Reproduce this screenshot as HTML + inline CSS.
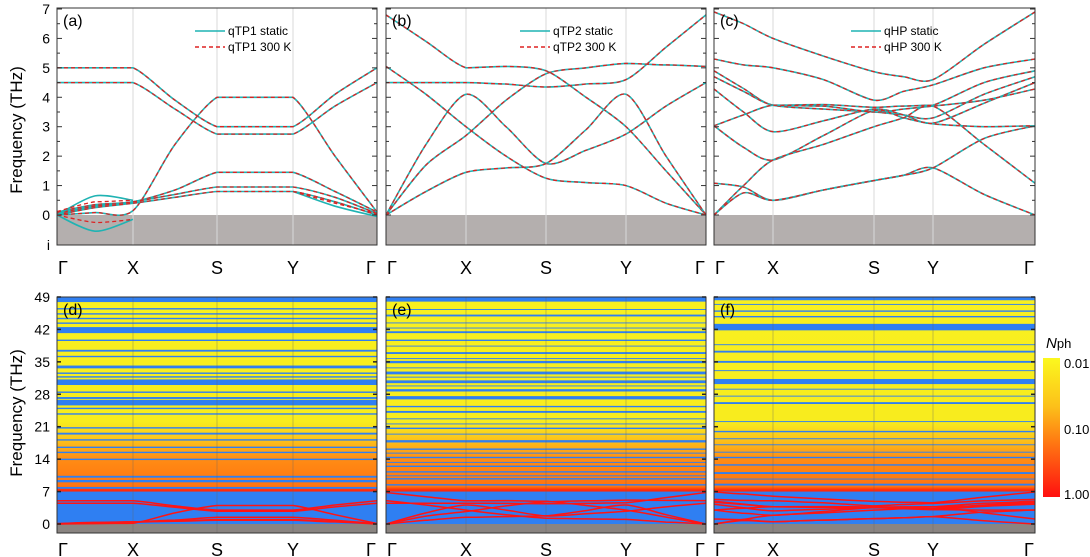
<!DOCTYPE html>
<html><head><meta charset="utf-8">
<style>
html,body{margin:0;padding:0;background:#fff;}
svg{display:block;font-family:"Liberation Sans",Arial,sans-serif;}
</style></head>
<body>
<svg id="fig" width="1090" height="557" viewBox="0 0 1090 557" xmlns="http://www.w3.org/2000/svg">
<defs>
<linearGradient id="heat" x1="0" y1="297" x2="0" y2="524" gradientUnits="userSpaceOnUse">
<stop offset="0" stop-color="#f8f020"/>
<stop offset="0.55" stop-color="#f8ec1e"/>
<stop offset="0.633" stop-color="#fcc01a"/>
<stop offset="0.714" stop-color="#ff8c14"/>
<stop offset="0.835" stop-color="#ff7410"/>
<stop offset="0.850" stop-color="#ff2a0a"/>
<stop offset="1" stop-color="#ff1010"/>
</linearGradient>
<linearGradient id="cbar" x1="0" y1="0" x2="0" y2="1">
<stop offset="0" stop-color="#fbf81e"/>
<stop offset="0.35" stop-color="#fcc01a"/>
<stop offset="0.6" stop-color="#ff7a12"/>
<stop offset="1" stop-color="#ff1010"/>
</linearGradient>
</defs>
<g id="layer"></g>
<text x="22" y="130" font-size="17" text-anchor="middle" transform="rotate(-90 22 130)">Frequency (THz)</text>
<text x="22" y="413" font-size="17" text-anchor="middle" transform="rotate(-90 22 413)">Frequency (THz)</text>
<g>
<rect x="1043" y="358" width="17" height="139" fill="url(#cbar)"/>
<text x="1046" y="348" font-size="15"><tspan font-style="italic">N</tspan><tspan font-size="13">ph</tspan></text>
<text x="1064" y="368" font-size="13">0.01</text>
<text x="1064" y="434" font-size="13">0.10</text>
<text x="1064" y="499" font-size="13">1.00</text>
</g>
</svg>
<script>
// ---------- data ----------
const kLabels = ["Γ","X","S","Y","Γ"];
const topTicks = [0,1,2,3,4,5,6,7];
const botTicks = [0,7,14,21,28,35,42,49];
// band values (THz) at 9 k-samples: Γ, mid, X, mid, S, mid, Y, mid, Γ
const bandsA = [
 [5.0,5.0,5.0,3.9,3.0,3.0,3.0,4.1,5.0],
 [4.5,4.5,4.5,3.6,2.75,2.75,2.75,3.7,4.5],
 [0.0,0.08,0.15,2.4,4.0,4.0,4.0,2.0,0.1],
 [0.1,0.35,0.45,0.85,1.45,1.45,1.45,0.8,0.1],
 [0.05,0.3,0.45,0.7,0.95,0.95,0.95,0.6,0.05],
 [0.0,0.25,0.4,0.6,0.8,0.8,0.8,0.45,0.0]
];
const extraStaticA = [
 [0.0,-0.55,-0.15,null,null,null,null,null,null],
 [0.0,0.65,0.5,null,null,null,null,null,null],
 [null,null,null,null,null,null,0.8,0.3,-0.05]
];
const extraHotA = [
 [0.0,-0.25,-0.15,null,null,null,null,null,null],
 [0.12,0.45,0.5,null,null,null,null,null,null],
 [null,null,null,null,null,null,0.8,0.4,0.05]
];
const bandsB = [
 [6.8,5.9,5.0,5.05,4.9,4.0,3.0,1.5,0.0],
 [5.05,4.1,3.0,2.0,1.25,1.1,1.0,0.4,0.0],
 [4.5,4.5,4.5,4.45,4.35,4.45,4.6,5.7,6.8],
 [0.0,2.4,4.1,3.0,1.75,2.2,2.75,3.7,4.5],
 [0.0,1.7,2.7,3.9,4.8,5.0,5.15,5.1,5.05],
 [0.0,0.8,1.45,1.6,1.75,2.9,4.1,2.0,0.0]
];
const bandsC = [
 [6.9,6.5,6.0,5.4,4.87,4.7,4.6,5.8,6.9],
 [5.3,5.1,5.0,4.6,3.9,4.2,4.42,5.0,5.3],
 [4.9,4.3,3.73,3.75,3.66,3.7,3.73,4.5,4.9],
 [4.7,4.2,3.73,3.6,3.5,3.4,3.3,4.1,4.7],
 [4.28,3.5,2.83,3.2,3.6,3.4,3.12,3.8,4.5],
 [3.03,3.4,3.73,3.7,3.5,3.6,3.7,3.9,4.28],
 [3.03,2.3,1.87,2.7,3.55,3.3,3.1,3.0,3.03],
 [0.0,1.0,1.87,2.4,3.0,3.3,3.7,2.4,1.08],
 [1.08,0.95,0.5,0.85,1.17,1.35,1.6,0.7,0.0],
 [0.0,0.75,0.5,0.85,1.17,1.35,1.6,2.6,3.03]
];
const gapsD = [[47.9,49],[46.3,46.6],[45.2,45.5],[44.2,44.5],[43.2,43.5],[41.2,42.5],[39.5,39.8],[37.2,37.6],[36.0,36.3],[33.6,34.2],[32.4,32.7],[31.6,31.9],[30.0,31.2],[28.3,28.6],[27.0,27.4],[25.6,26.8],[24.8,25.1],[23.6,23.9],[20.6,20.9],[19.3,19.7],[18.0,18.3],[16.4,16.7],[15.3,15.6],[13.8,14.1],[10.0,10.4],[9.0,9.5],[7.6,8.0],[0,7.0]];
const gapsE = [[48,49],[46.2,46.4],[44.8,45.2],[43.3,43.5],[42.2,42.4],[41.2,41.6],[39.5,39.8],[38.3,38.5],[36.7,37.1],[35.6,35.8],[34.7,35.2],[33.6,33.8],[32.3,32.9],[31.6,31.8],[30.4,31.0],[29.7,29.9],[28.6,29.1],[26.9,27.6],[25.2,25.5],[24.0,24.4],[22.6,22.8],[21.5,21.7],[20.5,20.8],[19.3,19.5],[17.6,18.1],[16.0,16.3],[15.2,15.4],[14.2,14.5],[13.2,13.4],[12.3,12.6],[11.1,11.4],[10.3,10.5],[9.6,9.9],[8.3,8.6],[0,7.0]];
const gapsF = [[48.3,49],[47.3,47.5],[45.8,46.1],[44.6,44.9],[41.8,43.2],[38.6,38.8],[37.0,37.4],[34.8,35.2],[33.0,33.2],[30.2,31.3],[29.0,29.2],[27.5,27.7],[25.9,26.3],[22.0,22.2],[19.8,20.1],[18.3,18.5],[17.0,17.2],[15.4,15.6],[14.2,14.5],[12.6,12.9],[10.8,11.2],[9.6,9.8],[8.3,8.7],[0,7.0]];

// ---------- layout ----------
const NS="http://www.w3.org/2000/svg";
const layer=document.getElementById('layer');
const panels=[
 {id:'a',name:'qTP1',k:[57,133,217,293,377],bands:bandsA,gaps:gapsD,bl:'d'},
 {id:'b',name:'qTP2',k:[386,466,546,626,706],bands:bandsB,gaps:gapsE,bl:'e'},
 {id:'c',name:'qHP',k:[714,773,874,933,1035],bands:bandsC,gaps:gapsF,bl:'f'}
];
const yTop=f=>215-f*29.43;
const yBot=f=>524-f*4.633;
function mk(tag,attrs,parent){const e=document.createElementNS(NS,tag);for(const a in attrs)e.setAttribute(a,attrs[a]);(parent||layer).appendChild(e);return e;}
function kxs(k){return [k[0],(k[0]+k[1])/2,k[1],(k[1]+k[2])/2,k[2],(k[2]+k[3])/2,k[3],(k[3]+k[4])/2,k[4]];}
function pathD(xs,vals,yf){
 let d='';let seg=[];
 const flush=()=>{if(seg.length<2){seg=[];return;}
  d+='M'+seg[0][0].toFixed(1)+' '+seg[0][1].toFixed(1);
  for(let i=0;i<seg.length-1;i++){const p0=seg[Math.max(0,i-1)],p1=seg[i],p2=seg[i+1],p3=seg[Math.min(seg.length-1,i+2)];
   const t=0.14;
   let c1y=p1[1]+(p2[1]-p0[1])*t,c2y=p2[1]-(p3[1]-p1[1])*t;
   const lo=Math.min(p1[1],p2[1]),hi=Math.max(p1[1],p2[1]);
   if(Math.abs(p1[1]-p2[1])<2){c1y=p1[1];c2y=p2[1];}
   const c1x=p1[0]+(p2[0]-p0[0])*t,c2x=p2[0]-(p3[0]-p1[0])*t;
   d+=' C'+c1x.toFixed(1)+' '+c1y.toFixed(1)+' '+c2x.toFixed(1)+' '+c2y.toFixed(1)+' '+p2[0].toFixed(1)+' '+p2[1].toFixed(1);}
  seg=[];};
 for(let i=0;i<vals.length;i++){if(vals[i]===null){flush();}else seg.push([xs[i],yf(vals[i])]);}
 flush();return d;}

panels.forEach(p=>{
 const x0=p.k[0],x1=p.k[4],xs=kxs(p.k);
 const g=mk('g',{});
 
 
 const gr=mk('rect',{x:x0,y:yTop(0),width:x1-x0,height:245-yTop(0),fill:'#b4afae'},g);
 
 
 [1,2,3].forEach(i=>{const l=mk('line',{x1:p.k[i],x2:p.k[i],y1:8,y2:245,stroke:'#d9d9d9','stroke-width':1},g);
  
  });
 const drawBands=(arr,kind)=>{arr.forEach((b,bi)=>{
  const d=pathD(xs,b,yTop);
  if(kind!=='hot'){const c=mk('path',{d:d,fill:'none',stroke:'#1fb3b3','stroke-width':1.6},g);
   
   }
  if(kind!=='static'){const r=mk('path',{d:d,fill:'none',stroke:'#dd2222','stroke-width':1.3,'stroke-dasharray':'4 3'},g);
   
   }
 });};
 drawBands(p.bands,'both');
 if(p.id==='a'){drawBands(extraStaticA,'static');drawBands(extraHotA,'hot');}
 const fr=mk('rect',{x:x0,y:8,width:x1-x0,height:237,fill:'none',stroke:'#333','stroke-width':1},g);
 
 
 for(let f=0;f<=7;f+=0.5){const y=yTop(f),len=(f%1===0)?5:3;
  const t1=mk('line',{x1:x0,x2:x0+len,y1:y,y2:y,stroke:'#333'},g);
  
  
  const t2=mk('line',{x1:x1,x2:x1-len,y1:y,y2:y,stroke:'#333'},g);
  
  }
 const lab=mk('text',{x:x0+6,y:26,'font-size':16},g);lab.textContent='('+p.id+')';
 
 
 const lx=p.id==='a'?195:(p.id==='b'?520:851);
 const l1=mk('line',{x1:lx,x2:lx+30,y1:31,y2:31,stroke:'#1fb3b3','stroke-width':1.6},g);
 
 
 const l2=mk('line',{x1:lx,x2:lx+30,y1:47,y2:47,stroke:'#dd2222','stroke-width':1.4,'stroke-dasharray':'4 3'},g);
 
 
 const tx1=mk('text',{x:lx+33,y:35,'font-size':12},g);tx1.textContent=p.name+' static';
 
 
 const tx2=mk('text',{x:lx+33,y:51,'font-size':12},g);tx2.textContent=p.name+' 300 K';
 
 
 kLabels.forEach((s,i)=>{const t=mk('text',{x:p.k[i]+(i===0?6:(i===4?-6:0)),y:274,'font-size':18,'text-anchor':'middle'},g);t.textContent=s;
  
  });

 const h=mk('g',{});
 
 
 const bg=mk('rect',{x:x0,y:297,width:x1-x0,height:yBot(0)-297,fill:'url(#heat)'},h);
 
 
 p.gaps.forEach(gp=>{const r=mk('rect',{x:x0,y:yBot(gp[1]),width:x1-x0,height:Math.max(0.8,yBot(gp[0])-yBot(gp[1])),fill:'#2f7ff2'},h);
  
  });
 const gb=mk('rect',{x:x0,y:yBot(0),width:x1-x0,height:533-yBot(0),fill:'#8a8481'},h);
 
 
 [1,2,3].forEach(i=>{const l=mk('line',{x1:p.k[i],x2:p.k[i],y1:297,y2:533,stroke:'#666','stroke-width':0.6,'stroke-opacity':0.6},h);
  
  });
 p.bands.forEach((b,bi)=>{const c=mk('path',{d:pathD(xs,b,yBot),fill:'none',stroke:'#ff1414','stroke-width':1.5},h);
  
  });
 const fr2=mk('rect',{x:x0,y:297,width:x1-x0,height:236,fill:'none',stroke:'#333','stroke-width':1},h);
 
 
 botTicks.forEach(f=>{const y=yBot(f);
  const t1=mk('line',{x1:x0,x2:x0+4,y1:y,y2:y,stroke:'#222','stroke-width':1.5},h);
  
  
  const t2=mk('line',{x1:x1,x2:x1-4,y1:y,y2:y,stroke:'#222','stroke-width':1.5},h);
  
  });
 const lb=mk('text',{x:x0+6,y:315,'font-size':16},h);lb.textContent='('+p.bl+')';
 
 
 kLabels.forEach((s,i)=>{const t=mk('text',{x:p.k[i]+(i===0?6:(i===4?-6:0)),y:556,'font-size':18,'text-anchor':'middle'},h);t.textContent=s;
  
  });
});
topTicks.forEach(f=>{const t=mk('text',{x:50,y:yTop(f)+5,'font-size':14,'text-anchor':'end'});t.textContent=f;
 
 });
const ti=mk('text',{x:50,y:250,'font-size':14,'text-anchor':'end'});ti.textContent='i';


botTicks.forEach(f=>{const t=mk('text',{x:50,y:yBot(f)+5,'font-size':14,'text-anchor':'end'});t.textContent=f;
 
 });
</script>
</body></html>
